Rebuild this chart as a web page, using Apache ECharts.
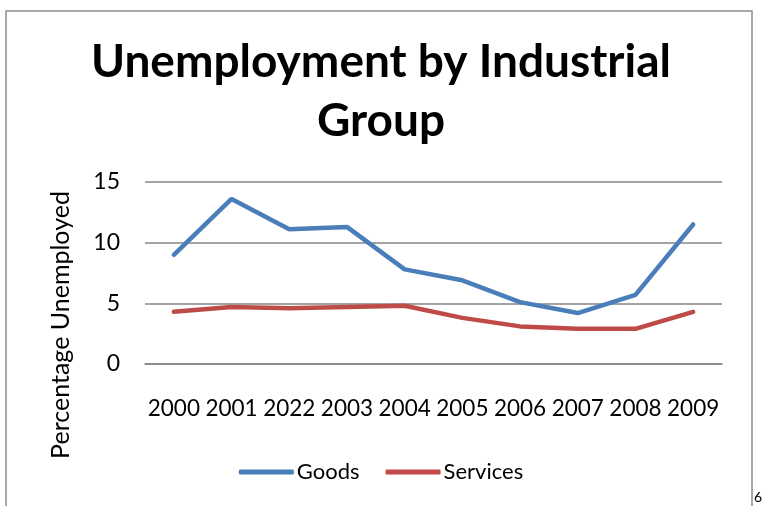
<!DOCTYPE html>
<html><head><meta charset="utf-8">
<script src="https://cdn.jsdelivr.net/npm/echarts@6/dist/echarts.min.js"></script>
<style>html,body{margin:0;padding:0;background:#fff}#c{width:762px;height:506px}</style>
</head><body><div id="c"></div>
<script>
const categories = ['2000','2001','2022','2003','2004','2005','2006','2007','2008','2009'];
const goods = [9.0, 13.6, 11.1, 11.3, 7.8, 6.9, 5.1, 4.2, 5.7, 11.5];
const services = [4.3, 4.7, 4.6, 4.7, 4.8, 3.8, 3.1, 2.9, 2.9, 4.3];
const yTicks = [0, 5, 10, 15];
const titleText = 'Unemployment by Industrial\nGroup';
const yAxisName = 'Percentage Unemployed';

const FONT = 'Lato, "Open Sans", sans-serif';
const chart = echarts.init(document.getElementById('c'));
chart.setOption({
  animation: false,
  textStyle: { fontFamily: FONT, color: '#000' },
  title: {
    text: titleText,
    left: 'center', top: 28,
    textStyle: { fontFamily: FONT, fontWeight: 'bold', fontSize: 46, lineHeight: 59, color: '#000' }
  },
  graphic: [
    { type: 'rect', shape: { x: 6, y: 11, width: 746, height: 520 }, style: { fill: 'none', stroke: '#8c8c8c', lineWidth: 1.5 }, silent: true },
    { type: 'text', left: 754, top: 490, style: { text: '6', fontSize: 14, fontFamily: FONT, fill: '#000' } },
    { type: 'text', x: 61, y: 325, rotation: Math.PI / 2,
      style: { text: yAxisName, fontSize: 25, fontFamily: FONT, fill: '#000', align: 'center', verticalAlign: 'middle' } }
  ],
  legend: {
    bottom: 18, left: 'center',
    itemWidth: 55, itemHeight: 5, itemGap: 26,
    icon: 'roundRect',
    textStyle: { fontSize: 22, fontFamily: FONT, color: '#000', padding: [0,0,0,-2] },
    data: ['Goods', 'Services']
  },
  grid: { left: 145, right: 40, top: 182, bottom: 142 },
  xAxis: {
    type: 'category', data: categories, boundaryGap: true,
    axisLine: { lineStyle: { color: '#868686', width: 1.5 } },
    axisTick: { show: false },
    axisLabel: { fontSize: 22.5, color: '#000', margin: 33, fontFamily: FONT, interval: 0 }
  },
  yAxis: {
    type: 'value', min: 0, max: 15, interval: 5,
    axisLine: { show: false }, axisTick: { show: false },
    axisLabel: { fontSize: 23, color: '#000', margin: 25, fontFamily: FONT,
      formatter: v => yTicks.includes(v) ? String(v) : '' },
    splitLine: { lineStyle: { color: '#868686', width: 1.5 } }
  },
  series: [
    { name: 'Goods', type: 'line', data: goods, symbol: 'none', color: '#4a7ebb', lineStyle: { width: 4.5, color: '#4a7ebb', cap: 'round' } },
    { name: 'Services', type: 'line', data: services, symbol: 'none', color: '#be4b48', lineStyle: { width: 4.5, color: '#be4b48', cap: 'round' } }
  ]
});
</script></body></html>
